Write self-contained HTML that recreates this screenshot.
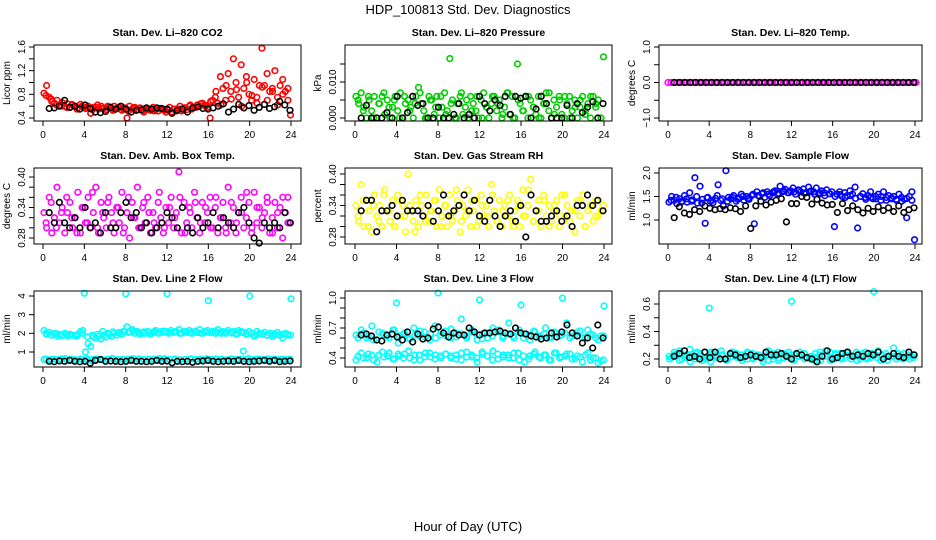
<!DOCTYPE html>
<html><head><meta charset="utf-8">
<style>
html,body{margin:0;padding:0;background:#fff;}
svg{display:block;font-family:"Liberation Sans",Arial,sans-serif;}
</style></head>
<body>
<svg id="chart" width="936" height="540" viewBox="0 0 936 540" xmlns="http://www.w3.org/2000/svg">
<text x="468" y="14" font-size="13" text-anchor="middle">HDP_100813  Std. Dev. Diagnostics</text>
<text x="468" y="531" font-size="13" text-anchor="middle">Hour of Day (UTC)</text>
</svg>
<script>
const xTicks = [0,4,8,12,16,20,24];
// CO2
const co2Red = [0.82,0.95,0.75,0.68,0.65,0.7,0.62,0.66,0.6,0.64,0.58,0.62,0.6,0.57,0.63,0.59,0.56,0.6,0.48,0.58,0.58,0.55,0.6,0.56,0.54,0.59,0.55,0.6,0.56,0.58,0.53,0.57,0.4,0.6,0.55,0.58,0.54,0.57,0.52,0.56,0.55,0.53,0.58,0.54,0.52,0.56,0.54,0.5,0.53,0.5,0.55,0.52,0.55,0.52,0.57,0.54,0.6,0.55,0.58,0.62,0.6,0.65,0.62,0.58,0.4,0.7,0.75,0.65,1.1,0.9,0.7,1.15,0.85,1.4,1.0,0.75,1.3,0.9,1.1,0.8,0.7,1.05,0.75,0.95,1.58,0.95,1.15,0.85,0.9,1.2,0.75,0.95,1.05,0.85,0.9,0.45];
const co2Red2 = [0.78,0.72,0.62,0.6,0.58,0.63,0.55,0.6,0.57,0.54,0.62,0.56,0.6,0.53,0.58,0.55,0.52,0.57,0.54,0.5,0.55,0.52,0.56,0.53,0.58,0.55,0.6,0.57,0.62,0.58,0.64,0.6,0.68,0.85,0.62,0.95,0.72,0.88,0.6,1.0,0.78,0.65,0.92,0.7,0.85,0.62,0.8,0.7];
const co2Black = [0.56,0.57,0.6,0.7,0.58,0.6,0.55,0.62,0.56,0.5,0.49,0.51,0.58,0.55,0.6,0.55,0.5,0.53,0.54,0.57,0.55,0.57,0.56,0.55,0.48,0.53,0.55,0.5,0.57,0.59,0.56,0.55,0.57,0.6,0.64,0.5,0.55,0.63,0.57,0.61,0.53,0.58,0.63,0.56,0.59,0.68,0.62,0.53];
// Pressure (units of 0.001 kPa)
const presGreen = [6,4,7,3,0,5,2,6,0,4,6,1,5,0,3,6,2,7,0,4,5,3,0,6,8.5,4,2,0,6,5,1,6,0,3,7,2,16.5,5,0,4,6,1,3,0,6,4,2,0,5,7,3,0,4,6,2,5,0,3,7,1,6,0,15,4,2,6,0,5,3,1,6,0,4,7,2,0,5,3,6,1,0,4,6,2,5,0,3,6,1,4,0,6,3,5,0,17];
const presGreen2 = [5,2,6,0,4,7,3,5,0,6,2,4,7,0,5,3,6,1,4,0,7,5,2,6,0,3,6,4,1,7,0,5,2,6,3,0,4,7,1,5,6,0,3,5,2,6,4,0];
const presBlack = [0,3.5,0,0,0,1.5,0,6,0,1.5,6,3.5,4,0,0,3,0,0,1,4,0,1,0,6,4,2,5,3.5,6,1,6,5.5,6,0,2.5,6,4,0,0,0,3.5,0,4,1.5,3,4.5,0,4];
// Li-820 temp
const tempMagenta = [0,0,0,0,0,0,0,0,0,0,0,0,0,0,0,0,0,0,0,0,0,0,0,0,0,0,0,0,0,0,0,0,0,0,0,0,0,0,0,0,0,0,0,0,0,0,0,0,0,0,0,0,0,0,0,0,0,0,0,0,0,0,0,0,0,0,0,0,0,0,0,0,0,0,0,0,0,0,0,0];
const tempBlack = [0,0,0,0,0,0,0,0,0,0,0,0,0,0,0,0,0,0,0,0,0,0,0,0,0,0,0,0,0,0,0,0,0,0,0,0,0,0,0,0,0,0,0,0,0,0];
// Amb box temp
const boxMagenta = [0.33,0.3,0.36,0.29,0.32,0.38,0.31,0.34,0.29,0.33,0.35,0.3,0.32,0.37,0.29,0.34,0.31,0.36,0.3,0.33,0.38,0.29,0.35,0.32,0.3,0.36,0.33,0.29,0.34,0.31,0.37,0.3,0.33,0.28,0.35,0.32,0.38,0.3,0.34,0.31,0.36,0.29,0.33,0.3,0.35,0.32,0.29,0.34,0.31,0.36,0.3,0.33,0.41,0.29,0.35,0.31,0.34,0.3,0.37,0.32,0.29,0.35,0.31,0.33,0.36,0.3,0.34,0.29,0.32,0.35,0.3,0.38,0.31,0.34,0.29,0.33,0.36,0.3,0.32,0.35,0.29,0.37,0.31,0.34,0.3,0.33,0.36,0.29,0.32,0.35,0.3,0.34,0.28,0.33,0.36,0.31];
const boxMagenta2 = [0.31,0.35,0.3,0.33,0.36,0.32,0.29,0.34,0.31,0.37,0.3,0.33,0.35,0.31,0.34,0.29,0.36,0.32,0.3,0.35,0.33,0.31,0.37,0.3,0.34,0.32,0.36,0.29,0.33,0.35,0.31,0.34,0.3,0.36,0.32,0.29,0.35,0.31,0.33,0.37,0.3,0.34,0.32,0.35,0.29,0.33,0.36,0.31];
const boxBlack = [0.33,0.31,0.35,0.31,0.3,0.32,0.3,0.34,0.3,0.31,0.29,0.33,0.3,0.3,0.33,0.35,0.32,0.33,0.3,0.31,0.29,0.3,0.31,0.33,0.32,0.3,0.34,0.3,0.29,0.32,0.3,0.31,0.33,0.3,0.32,0.31,0.3,0.33,0.34,0.31,0.28,0.27,0.31,0.3,0.31,0.3,0.33,0.31];
// Gas stream RH
const rhYellow = [0.34,0.31,0.38,0.3,0.35,0.33,0.29,0.36,0.32,0.34,0.3,0.37,0.33,0.31,0.35,0.3,0.36,0.32,0.34,0.29,0.4,0.33,0.31,0.35,0.3,0.34,0.32,0.36,0.31,0.33,0.35,0.3,0.37,0.32,0.34,0.3,0.36,0.31,0.33,0.35,0.29,0.34,0.32,0.37,0.3,0.33,0.35,0.31,0.36,0.32,0.34,0.3,0.38,0.33,0.31,0.35,0.3,0.34,0.32,0.36,0.31,0.33,0.35,0.3,0.37,0.32,0.34,0.39,0.31,0.33,0.35,0.3,0.36,0.32,0.34,0.31,0.33,0.35,0.3,0.36,0.32,0.34,0.31,0.33,0.29,0.35,0.32,0.36,0.3,0.33,0.34,0.31,0.35,0.32,0.33,0.34];
const rhYellow2 = [0.32,0.35,0.3,0.34,0.31,0.36,0.33,0.3,0.35,0.32,0.34,0.29,0.36,0.31,0.33,0.35,0.3,0.34,0.32,0.37,0.31,0.33,0.35,0.3,0.34,0.32,0.36,0.31,0.33,0.35,0.3,0.34,0.32,0.37,0.31,0.33,0.35,0.3,0.34,0.32,0.36,0.31,0.33,0.35,0.3,0.34,0.32,0.33];
const rhBlack = [0.33,0.35,0.35,0.29,0.33,0.33,0.34,0.32,0.35,0.33,0.33,0.33,0.32,0.34,0.31,0.33,0.36,0.32,0.33,0.34,0.36,0.33,0.35,0.32,0.31,0.35,0.32,0.3,0.32,0.33,0.31,0.34,0.28,0.36,0.33,0.31,0.31,0.32,0.33,0.31,0.32,0.3,0.34,0.34,0.36,0.34,0.35,0.33];
// Sample flow
const flowBlue = [1.38,1.5,1.42,1.35,1.45,1.4,1.52,1.38,1.58,1.43,1.9,1.36,1.72,1.44,0.93,1.48,1.4,1.37,1.46,1.75,1.42,1.3,2.05,1.48,1.45,1.52,1.4,1.47,1.55,1.42,1.5,1.44,1.52,0.92,1.6,1.5,1.56,1.48,1.6,1.52,1.58,1.62,1.55,1.72,1.6,1.65,1.58,1.62,1.68,1.55,1.64,1.6,1.66,1.58,1.7,1.62,1.6,1.68,1.55,1.62,1.58,1.64,1.56,1.6,0.86,1.55,1.6,1.5,1.58,1.52,1.62,1.55,1.7,0.83,1.5,1.56,1.48,1.52,1.6,1.45,1.5,1.55,1.42,1.6,1.48,1.52,1.45,1.5,1.42,1.55,1.48,1.44,1.05,1.5,1.6,0.58];
const flowBlue2 = [1.42,1.48,1.38,1.45,1.4,1.5,1.36,1.47,1.42,1.52,1.45,1.4,1.48,1.44,1.5,1.46,1.55,1.52,1.58,1.55,1.6,1.57,1.62,1.58,1.6,1.63,1.57,1.6,1.55,1.58,1.52,1.56,1.5,1.54,1.48,1.52,1.46,1.5,1.44,1.48,1.45,1.5,1.42,1.47,1.44,1.4,1.46,1.42];
const flowBlack = [1.05,1.28,1.15,1.12,1.22,1.18,1.3,1.25,1.22,1.24,1.22,1.26,1.24,1.18,1.3,0.82,1.3,1.4,1.32,1.38,1.42,1.45,0.96,1.35,1.35,1.5,1.48,1.34,1.44,1.36,1.32,1.33,1.16,1.35,1.2,1.3,1.22,1.15,1.25,1.18,1.28,1.2,1.26,1.18,1.3,1.16,1.22,1.26];
// Line 2 flow
const line2Upper = [2.15,1.95,2.05,1.9,2.0,1.85,1.95,1.9,2.0,1.85,1.95,1.9,1.88,1.95,2.1,2.15,1.0,1.45,1.3,1.8,1.75,1.85,1.7,1.9,1.8,1.95,1.85,2.0,1.9,2.05,1.95,2.1,2.35,2.1,2.2,2.0,2.1,1.95,2.05,2.0,2.1,1.95,2.05,2.15,2.0,2.1,2.05,2.1,2.0,2.15,2.05,2.1,2.2,2.0,2.1,2.05,2.15,2.0,2.1,2.05,2.2,2.0,2.1,2.15,2.05,2.1,2.0,2.2,2.05,2.1,2.0,2.15,2.05,2.1,2.0,2.15,2.1,2.05,1.95,2.1,2.0,1.85,2.1,2.0,1.95,2.05,1.9,2.0,1.85,1.95,2.05,1.9,1.75,2.0,1.95,1.9];
const line2Upper2 = [2.0,1.92,1.98,1.88,1.95,1.9,1.85,2.0,1.82,1.9,1.95,2.1,2.0,2.08,2.02,2.1,2.05,2.12,2.0,2.08,2.05,2.1,2.02,2.12,2.05,2.08,2.0,2.1,2.05,2.12,2.02,2.08,2.05,2.1,2.0,2.06,2.02,1.95,2.05,1.98,2.0,1.92,1.95,1.9,1.98,1.92,1.95,1.9];
const line2Lower = [0.6,0.58,0.62,0.6,0.65,0.6,0.58,0.62,0.6,0.55,0.62,0.6,0.6,0.65,0.58,0.62,0.6,0.64,0.6,0.58,0.62,0.6,0.65,0.6,0.6,0.62,0.58,0.6,0.62,0.6,0.58,0.64,0.6,0.62,0.6,0.58,0.62,0.6,1.05,0.65,0.6,0.62,0.58,0.6,0.62,0.6,0.58,0.6];
const line2Lower2 = [0.62,0.6,0.58,0.63,0.6,0.62,0.58,0.6,0.63,0.6,0.62,0.58,0.6,0.64,0.6,0.58,0.62,0.6,0.63,0.6,0.58,0.62,0.6,0.64,0.6,0.62,0.58,0.6,0.63,0.6,0.62,0.58,0.6,0.62,0.6,0.58,0.63,0.6,0.62,0.6,0.58,0.62,0.6,0.63,0.6,0.58,0.62,0.6];
const line2OutHours = [4,8,12,16,20,24];
const line2OutVals = [4.15,4.12,4.12,3.75,4.0,3.85];
const line2Black = [0.5,0.48,0.52,0.5,0.55,0.5,0.48,0.5,0.4,0.55,0.6,0.5,0.52,0.5,0.48,0.5,0.55,0.5,0.5,0.48,0.5,0.55,0.5,0.52,0.42,0.5,0.48,0.5,0.45,0.5,0.52,0.55,0.5,0.48,0.5,0.52,0.5,0.55,0.5,0.48,0.5,0.52,0.55,0.5,0.55,0.48,0.5,0.52];
// Line 3 flow
const line3Upper = [0.63,0.68,0.6,0.72,0.58,0.65,0.62,0.68,0.55,0.64,0.6,0.7,0.62,0.66,0.58,0.72,0.63,0.67,0.6,0.65,0.79,0.62,0.68,0.58,0.64,0.6,0.7,0.66,0.62,0.75,0.6,0.68,0.64,0.58,0.66,0.62,0.7,0.6,0.65,0.63,0.75,0.62,0.66,0.6,0.68,0.63,0.58,0.62];
const line3Upper2 = [0.6,0.65,0.62,0.58,0.66,0.63,0.6,0.68,0.62,0.65,0.59,0.63,0.67,0.61,0.64,0.6,0.66,0.62,0.69,0.61,0.64,0.6,0.66,0.63,0.59,0.65,0.62,0.68,0.6,0.64,0.62,0.66,0.6,0.63,0.67,0.61,0.64,0.6,0.66,0.62,0.65,0.6,0.63,0.67,0.61,0.64,0.6,0.62];
const line3Lower = [0.38,0.45,0.4,0.43,0.36,0.46,0.42,0.39,0.44,0.4,0.47,0.38,0.43,0.41,0.45,0.39,0.42,0.44,0.4,0.43,0.38,0.46,0.41,0.36,0.44,0.42,0.47,0.39,0.43,0.4,0.45,0.38,0.36,0.42,0.46,0.4,0.43,0.38,0.45,0.41,0.44,0.39,0.42,0.36,0.45,0.4,0.35,0.38];
const line3Lower2 = [0.42,0.4,0.44,0.38,0.43,0.41,0.45,0.39,0.42,0.44,0.4,0.43,0.38,0.45,0.41,0.43,0.4,0.44,0.42,0.39,0.45,0.41,0.43,0.4,0.46,0.42,0.38,0.44,0.41,0.43,0.4,0.45,0.42,0.39,0.44,0.41,0.43,0.38,0.45,0.4,0.42,0.44,0.39,0.41,0.43,0.38,0.4,0.37];
const line3OutHours = [4,8,12,16,20,24];
const line3OutVals = [0.95,1.05,0.98,0.93,1.0,0.92];
const line3Black = [0.63,0.64,0.62,0.58,0.57,0.63,0.64,0.61,0.58,0.66,0.56,0.64,0.59,0.6,0.69,0.71,0.65,0.61,0.65,0.63,0.63,0.7,0.66,0.63,0.65,0.65,0.66,0.67,0.65,0.64,0.7,0.65,0.64,0.62,0.61,0.59,0.6,0.65,0.61,0.66,0.73,0.65,0.62,0.55,0.6,0.5,0.73,0.6];
// Line 4 flow
const line4A = [0.22,0.25,0.19,0.23,0.27,0.2,0.24,0.21,0.18,0.23,0.26,0.2,0.22,0.24,0.19,0.25,0.21,0.23,0.2,0.26,0.22,0.19,0.24,0.21,0.23,0.25,0.2,0.22,0.24,0.19,0.26,0.21,0.23,0.2,0.25,0.22,0.19,0.24,0.21,0.23,0.26,0.2,0.22,0.28,0.21,0.24,0.2,0.23];
const line4B = [0.2,0.23,0.26,0.21,0.18,0.24,0.22,0.2,0.25,0.21,0.23,0.19,0.25,0.21,0.23,0.2,0.24,0.22,0.18,0.23,0.2,0.25,0.21,0.23,0.19,0.22,0.24,0.2,0.21,0.25,0.22,0.19,0.24,0.21,0.23,0.2,0.25,0.22,0.2,0.24,0.21,0.23,0.19,0.22,0.24,0.2,0.23,0.21];
const line4C = [0.21,0.24,0.2,0.23,0.22,0.25,0.19,0.22,0.24,0.21,0.23,0.2,0.25,0.22,0.21,0.24,0.2,0.23,0.22,0.19,0.24,0.21,0.23,0.25,0.2,0.22,0.24,0.21,0.19,0.23,0.22,0.25,0.2,0.24,0.21,0.23,0.22,0.2,0.25,0.21,0.23,0.19,0.24,0.22,0.2,0.23,0.21,0.22];
const line4OutHours = [4,12,20];
const line4OutVals = [0.57,0.62,0.69];
const line4Black = [0.22,0.24,0.26,0.21,0.22,0.2,0.25,0.21,0.25,0.2,0.2,0.24,0.23,0.21,0.22,0.23,0.22,0.21,0.25,0.23,0.23,0.24,0.22,0.2,0.24,0.23,0.21,0.2,0.18,0.22,0.26,0.2,0.21,0.24,0.25,0.22,0.23,0.22,0.24,0.23,0.25,0.2,0.22,0.24,0.22,0.21,0.25,0.23];

const NS = "http://www.w3.org/2000/svg";
const svg = document.getElementById('chart');
function mk(tag, attrs, parent){ const e=document.createElementNS(NS,tag); for(const k in attrs) e.setAttribute(k,attrs[k]); (parent||svg).appendChild(e); return e; }

const cols = [{l:34,r:301,x0:43,x24:291},{l:345,r:612,x0:355,x24:604},{l:659,r:922,x0:668,x24:915}];
const rows = [{t:45,b:121},{t:168,b:244},{t:291,b:367}];

function spread(vals, h0, h1){ const n=vals.length; return vals.map((v,i)=> h0 + (h1-h0)*i/(n-1)); }

const panels = [
 {name:'co2',c:0,r:0,title:'Stan. Dev. Li\u2013820 CO2',ylab:'Licor ppm',cal:[0.4,118,1.6,47],ticks:[0.4,0.6,0.8,1.0,1.2,1.4,1.6],labels:['0.4','','0.8','','1.2','','1.6'],scale:1,
  series:[{v:co2Red,col:'#ff0000'},{v:co2Red2,col:'#ff0000',h0:0.3,h1:23.7},{v:co2Black,col:'#000',h0:0.6,h1:23.9}]},
 {name:'pressure',c:1,r:0,title:'Stan. Dev. Li\u2013820 Pressure',ylab:'kPa',cal:[0,118,0.01,82],ticks:[0,0.005,0.01,0.015],labels:['0.000','','0.010',''],scale:0.001,
  series:[{v:presGreen,col:'#00cd00'},{v:presGreen2,col:'#00cd00',h0:0.3,h1:23.7},{v:presBlack,col:'#000',h0:0.6,h1:23.9}]},
 {name:'li820-temp',c:2,r:0,title:'Stan. Dev. Li\u2013820 Temp.',ylab:'degrees C',cal:[-1,118,1,47],ticks:[-1,-0.5,0,0.5,1],labels:['\u22121.0','','0.0','','1.0'],scale:1,
  series:[{v:tempMagenta,col:'#ff00ff',h0:0,h1:24.1},{v:tempBlack,col:'#000',h0:0.6,h1:23.9}]},
 {name:'box-temp',c:0,r:1,title:'Stan. Dev. Amb. Box Temp.',ylab:'degrees C',cal:[0.28,238,0.40,177],ticks:[0.28,0.30,0.32,0.34,0.36,0.38,0.40],labels:['0.28','','','0.34','','','0.40'],scale:1,
  series:[{v:boxMagenta,col:'#ff00ff'},{v:boxMagenta2,col:'#ff00ff',h0:0.3,h1:23.7},{v:boxBlack,col:'#000',h0:0.6,h1:23.9}]},
 {name:'gas-rh',c:1,r:1,title:'Stan. Dev. Gas Stream RH',ylab:'percent',cal:[0.28,237,0.40,174],ticks:[0.28,0.30,0.32,0.34,0.36,0.38,0.40],labels:['0.28','','','0.34','','','0.40'],scale:1,
  series:[{v:rhYellow,col:'#ffff00'},{v:rhYellow2,col:'#ffff00',h0:0.3,h1:23.7},{v:rhBlack,col:'#000',h0:0.6,h1:23.9}]},
 {name:'sample-flow',c:2,r:1,title:'Stan. Dev. Sample Flow',ylab:'ml/min',cal:[1,220,2,173],ticks:[1,1.5,2],labels:['1.0','1.5','2.0'],scale:1,
  series:[{v:flowBlue,col:'#0000ff'},{v:flowBlue2,col:'#0000ff',h0:0.3,h1:23.7},{v:flowBlack,col:'#000',h0:0.6,h1:23.9}]},
 {name:'line2-flow',c:0,r:2,title:'Stan. Dev. Line 2 Flow',ylab:'ml/min',cal:[1,352,4,296],ticks:[1,2,3,4],labels:['1','2','3','4'],scale:1,
  series:[{v:line2Upper,col:'#00ffff'},{v:line2Upper2,col:'#00ffff',h0:0.3,h1:23.7},{v:line2Lower,col:'#00ffff'},{v:line2Lower2,col:'#00ffff',h0:0.3,h1:23.7},{v:line2OutVals,hrs:line2OutHours,col:'#00ffff'},{v:line2Black,col:'#000',h0:0.6,h1:23.9}]},
 {name:'line3-flow',c:1,r:2,title:'Stan. Dev. Line 3 Flow',ylab:'ml/min',cal:[0.4,358,1.0,298],ticks:[0.4,0.5,0.6,0.7,0.8,0.9,1.0],labels:['0.4','','','0.7','','','1.0'],scale:1,
  series:[{v:line3Upper,col:'#00ffff'},{v:line3Upper2,col:'#00ffff',h0:0.3,h1:23.7},{v:line3Lower,col:'#00ffff'},{v:line3Lower2,col:'#00ffff',h0:0.3,h1:23.7},{v:line3OutVals,hrs:line3OutHours,col:'#00ffff'},{v:line3Black,col:'#000',h0:0.6,h1:23.9}]},
 {name:'line4-flow',c:2,r:2,title:'Stan. Dev. Line 4 (LT) Flow',ylab:'ml/min',cal:[0.2,359,0.6,304],ticks:[0.2,0.3,0.4,0.5,0.6],labels:['0.2','','0.4','','0.6'],scale:1,
  series:[{v:line4A,col:'#00ffff'},{v:line4B,col:'#00ffff',h0:0.15,h1:23.85},{v:line4C,col:'#00ffff',h0:0.35,h1:23.65},{v:line4OutVals,hrs:line4OutHours,col:'#00ffff'},{v:line4Black,col:'#000',h0:0.6,h1:23.9}]}
];

panels.forEach(p=>{
  const C=cols[p.c], R=rows[p.r];
  const g=mk('g',{});
  
  
  const xs = h => C.x0 + (C.x24-C.x0)*h/24;
  const ys = v => p.cal[1] + (v-p.cal[0])*(p.cal[3]-p.cal[1])/(p.cal[2]-p.cal[0]);
  p.series.forEach(s=>{
    const hrs = s.hrs || spread(s.v, s.h0!==undefined?s.h0:0.1, s.h1!==undefined?s.h1:23.95);
    s.v.forEach((v,i)=>{
      const c=mk('circle',{cx:xs(hrs[i]).toFixed(1),cy:ys(v*p.scale).toFixed(1),r:2.8,fill:'none',stroke:s.col,'stroke-width':1.6},g);
      
      
    });
  });
  const box=mk('rect',{x:C.l,y:R.t,width:C.r-C.l,height:R.b-R.t,fill:'none',stroke:'#000','stroke-width':1},g);
  
  
  const t=mk('text',{x:(C.l+C.r)/2,y:R.t-9,'font-size':10.5,'font-weight':'bold','text-anchor':'middle'},g);
  t.textContent=p.title;
  
  
  xTicks.forEach(h=>{
    const x=xs(h);
    mk('line',{x1:x,y1:R.b,x2:x,y2:R.b+5,stroke:'#000'},g);
    const tl=mk('text',{x:x,y:R.b+17,'font-size':10,'text-anchor':'middle'},g);
    tl.textContent=String(h);
    
    
  });
  p.ticks.forEach((v,i)=>{
    const y=ys(v);
    mk('line',{x1:C.l-5,y1:y,x2:C.l,y2:y,stroke:'#000'},g);
    if(p.labels[i]){
      const yl=mk('text',{x:0,y:0,'font-size':10,'text-anchor':'middle',transform:`translate(${C.l-9},${y}) rotate(-90)`},g);
      yl.textContent=p.labels[i];
      
      
    }
  });
  const yt=mk('text',{x:0,y:0,'font-size':10,'text-anchor':'middle',transform:`translate(${C.l-24},${(R.t+R.b)/2}) rotate(-90)`},g);
  yt.textContent=p.ylab;
  
  
});
</script>
</body></html>
